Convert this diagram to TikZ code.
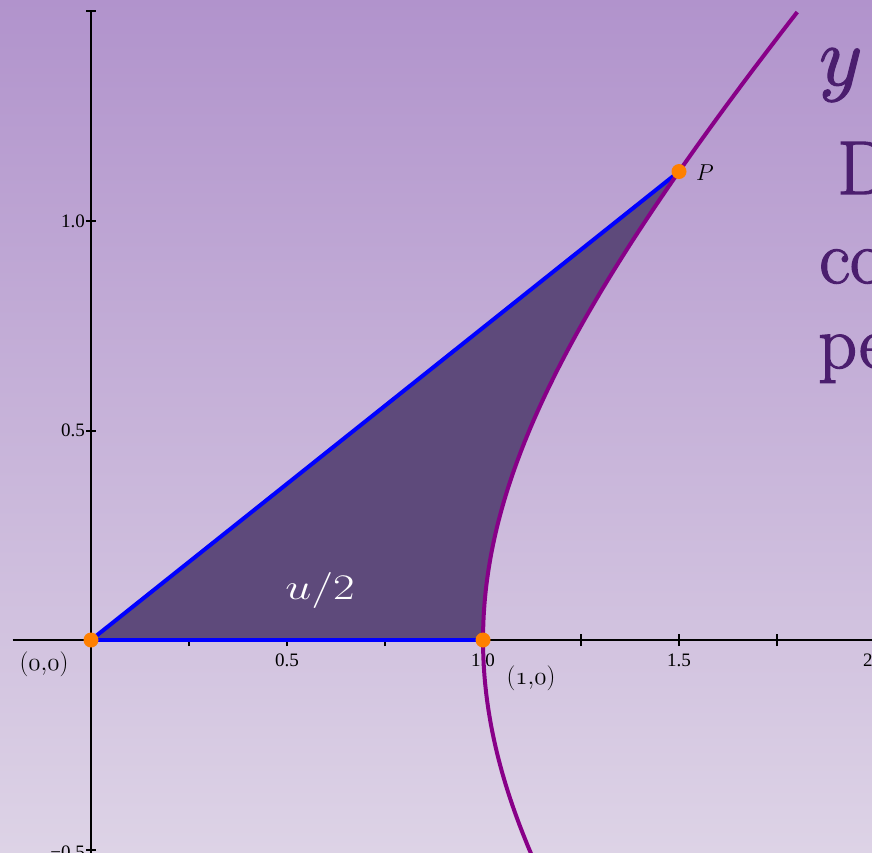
\documentclass[tikz,border=0pt]{standalone}
\usepackage{fix-cm}
\usepackage{graphicx}
\usepackage{fontspec}
\newfontfamily\tickfont{Liberation Serif}
\definecolor{bgtop}{RGB}{177,147,204}
\definecolor{bgbot}{RGB}{221,211,230}
\definecolor{fillc}{RGB}{94,74,123}
\definecolor{hypc}{RGB}{136,0,136}
\definecolor{ptc}{RGB}{255,128,0}
\definecolor{txtc}{RGB}{75,30,110}
\newcommand{\heavytext}[1]{\special{pdf:code 2 Tr 1.3 w}#1\special{pdf:code 0 Tr}}
\tikzset{
  axisline/.style={line width=2.5pt,black},
  tickmark/.style={line width=2pt,black},
  ticklab/.style={inner sep=0pt,font=\fontsize{19}{19}\selectfont\tickfont},
  ptlab/.style={inner sep=0pt,font=\fontsize{25}{25}\selectfont},
  blueline/.style={line width=4pt,blue},
  hyp/.style={line width=4pt,hypc},
  dot/.style={circle,fill=ptc,inner sep=0pt,minimum size=15pt},
  bigtext/.style={anchor=base west,inner sep=0pt,text=txtc,font=\fontsize{76}{76}\selectfont}
}
\begin{document}
\begin{tikzpicture}[x=392pt,y=419pt]
\useasboundingbox (-91pt,-212pt) rectangle (781pt,640pt);
\shade[top color=bgtop,bottom color=bgbot] (-91pt,-212pt) rectangle (781pt,640pt);
\begin{scope}
\clip (-91pt,-212pt) rectangle (781pt,640pt);
\coordinate (O) at (0,0);
\coordinate (A) at (1,0);
\coordinate (P) at (1.5,{sqrt(1.25)});
% axes
\draw[axisline] (-0.2,0) -- (2.1,0);
\draw[axisline] (0,-0.6) -- (0,1.5);
\foreach \k in {0.25,0.5,0.75,1,1.25,1.5,1.75,2}
  \draw[tickmark] ([yshift=-6pt]\k,0) -- ([yshift=6pt]\k,0);
\foreach \k in {-0.5,0.5,1,1.5}
  \draw[tickmark] ([xshift=-5pt]0,\k) -- ([xshift=5pt]0,\k);
% filled sector
\fill[fillc] (O) -- (P) -- plot[domain=0.9624:0,samples=60,variable=\t] ({cosh(\t)},{sinh(\t)}) -- cycle;
% tick labels
\node[ticklab] (xa) at ([yshift=-20pt]0.5,0) {0.5};
\node[ticklab] (xb) at ([yshift=-20pt]1,0) {1.0};
\node[ticklab] (xc) at ([yshift=-20pt]1.5,0) {1.5};
\node[ticklab] (xd) at ([yshift=-20pt]2,0) {2.0};
\node[ticklab,anchor=east] (ya) at ([xshift=-6pt]0,1) {1.0};
\node[ticklab,anchor=east] (yb) at ([xshift=-6pt]0,0.5) {0.5};
\node[ticklab,anchor=east] (yc) at ([xshift=-6pt,yshift=-3pt]0,-0.5) {−0.5};
% connectors
\draw[blueline] (O) -- (A);
\draw[blueline] (O) -- (P);
\draw[hyp] plot[domain=-0.56:1.1948,samples=120,variable=\t] ({cosh(\t)},{sinh(\t)});
% points
\node[dot] (dO) at (O) {};
\node[dot] (dA) at (A) {};
\node[dot] (dP) at (P) {};
% labels
\node[ptlab] (lO) at (-47pt,-24pt) {$(\mathnormal{0}{,}\mathnormal{0})$};
\node[ptlab] (lA) at (440pt,-38pt) {$(\mathnormal{1}{,}\mathnormal{0})$};
\node[inner sep=0pt,font=\fontsize{23}{23}\selectfont] (lP) at (614pt,467pt) {$P$};
\node[inner sep=0pt,text=white,font=\fontsize{36}{36}\selectfont] (lu) at (229pt,50pt) {\scalebox{1.3}[1]{$u/2$}};
% right-hand text (cut off by the frame)
\node[bigtext,font=\fontsize{84}{84}\selectfont] (ty) at (728pt,555pt) {\heavytext{$y$}};
\node[bigtext] (tD) at (746pt,446pt) {\heavytext{D}};
\node[bigtext] (tco) at (728pt,357pt) {\heavytext{co}};
\node[bigtext] (tpe) at (727pt,272pt) {\heavytext{pe}};
\end{scope}
\end{tikzpicture}
\end{document}
